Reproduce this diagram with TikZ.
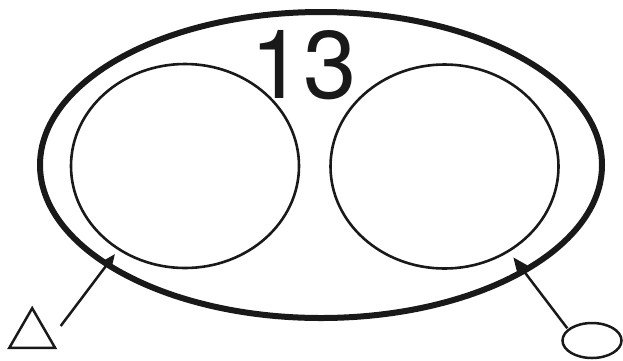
\documentclass[tikz,border=0pt]{standalone}
\usepackage{fontspec}
\setmainfont{TeX Gyre Heros}
\usetikzlibrary{shapes.geometric,arrows.meta}
\begin{document}
\begin{tikzpicture}[x=1pt,y=-1pt,
  outerring/.style={draw=black!90,line width=6pt,ellipse,inner sep=0pt},
  innerring/.style={draw=black!90,line width=2.6pt,ellipse,inner sep=0pt},
  pointer/.style={draw=black!90,line width=2.5pt,-{Triangle[length=15pt,width=12pt]}},
  smallmark/.style={draw=black!90,line width=2.5pt,inner sep=0pt}]
\useasboundingbox (0,0) rectangle (623,360);
\node[outerring,minimum width=562pt,minimum height=306pt] (outer) at (321,165) {};
\node[innerring,minimum width=228pt,minimum height=204pt] (left) at (185,166) {};
\node[innerring,minimum width=228pt,minimum height=204pt] (right) at (444.5,166.5) {};
\node[anchor=base west,inner sep=0pt,font=\fontsize{96}{96}\selectfont,text=black!90] (num) at (250.3,98) {13};
\node[smallmark,regular polygon,regular polygon sides=3,minimum size=53pt] (tri) at (32.2,334.7) {};
\node[smallmark,ellipse,minimum width=59pt,minimum height=35pt] (oval) at (592,340.5) {};
\coordinate (a1s) at (60.7,326);
\coordinate (a1e) at (115,254);
\coordinate (a2s) at (567.3,328.3);
\coordinate (a2e) at (513.3,257.3);
\draw[pointer] (a1s) -- (a1e);
\draw[pointer] (a2s) -- (a2e);
\end{tikzpicture}
\end{document}
